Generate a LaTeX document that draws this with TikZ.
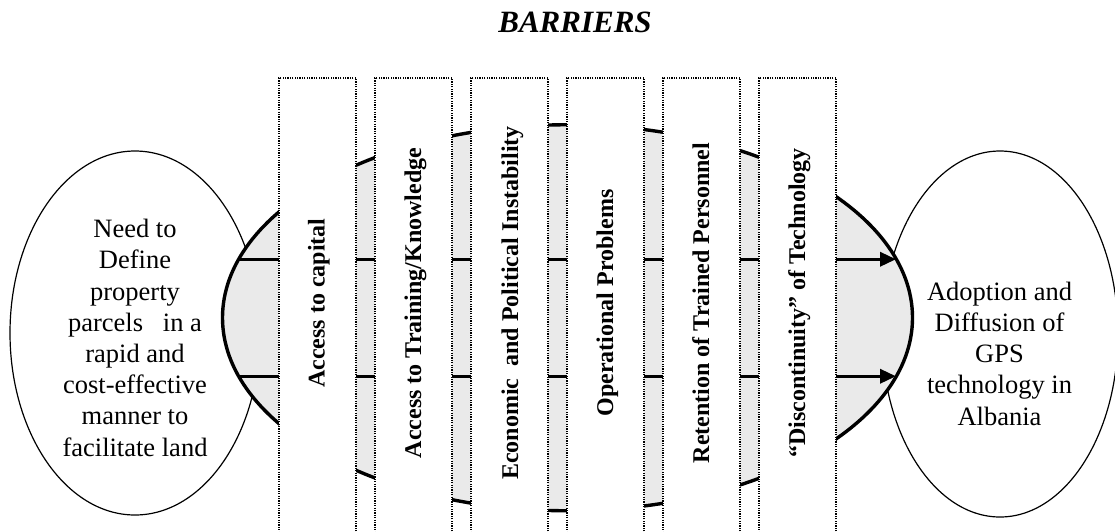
\documentclass[tikz,border=0pt]{standalone}
\usepackage{fontspec}
\setmainfont{Liberation Serif}
\usetikzlibrary{shapes.geometric,arrows.meta}
\definecolor{barfill}{RGB}{234,234,234}
\tikzset{
  outerell/.style={draw=black, line width=1.2pt, fill=white, ellipse, inner sep=0pt},
  barell/.style={draw=black, line width=3.4pt, fill=barfill, ellipse, inner sep=0pt},
  colbox/.style={draw=black, line width=1.1pt, dash pattern=on 1.2pt off 1.2pt, fill=white, rectangle, inner sep=0pt, minimum width=77pt, minimum height=482pt},
  coltext/.style={rotate=90, anchor=base, inner sep=0pt, font=\fontsize{24}{28}\selectfont\bfseries},
  flow/.style={line width=3.4pt, -{Triangle[length=16pt,width=14pt]}},
  elltext/.style={anchor=base, inner sep=0pt}
}
\begin{document}
\begin{tikzpicture}[x=1pt,y=-1pt]
\useasboundingbox (0,0) rectangle (1115,531);
\clip (0,0) rectangle (1115,531);
% title
\node[anchor=base, inner sep=0pt, font=\fontsize{31}{36}\selectfont\bfseries\itshape] (title) at (575,32) {BARRIERS};
% outer ellipses
\node[outerell, minimum width=250pt, minimum height=364pt] (need) at (135,333) {};
\node[outerell, minimum width=236pt, minimum height=366pt] (adopt) at (1000,334) {};
\node[elltext] (needtext) at (135,237.7) {\parbox[t]{220pt}{\centering\fontsize{26.5}{31.2}\selectfont Need to\\ Define\\ property\\ parcels\ \ \ in a\\ rapid and\\ cost-effective\\ manner to\\ facilitate land}};
\node[elltext] (adopttext) at (999.5,300) {\parbox[t]{220pt}{\centering\fontsize{26.5}{31.25}\selectfont Adoption and\\ Diffusion of\\ GPS\\ technology in\\ Albania}};
% barrier ellipse
\node[barell, minimum width=690pt, minimum height=386pt] (bar) at (567.5,317.75) {};
% flows
\coordinate (l1) at (239,259.25);
\coordinate (r1) at (896,259.25);
\coordinate (l2) at (239,376.25);
\coordinate (r2) at (896,376.25);
\draw[flow] (l1) -- (r1);
\draw[flow] (l2) -- (r2);
% columns
\node[colbox] (c1) at (317.5,319) {};
\node[colbox] (c2) at (413.5,319) {};
\node[colbox] (c3) at (509.5,319) {};
\node[colbox] (c4) at (605.5,319) {};
\node[colbox] (c5) at (701.5,319) {};
\node[colbox] (c6) at (797.5,319) {};
\node[coltext] (t1) at (324.5,303) {Access to capital};
\node[coltext] (t2) at (421,303) {Access to Training/Knowledge};
\node[coltext] (t3) at (518,303) {Economic\ \ and Political Instability};
\node[coltext] (t4) at (613,303) {Operational Problems};
\node[coltext] (t5) at (709,303) {Retention of Trained Personnel};
\node[coltext] (t6) at (805,303) {“Discontinuity” of Technology};
\end{tikzpicture}
\end{document}
